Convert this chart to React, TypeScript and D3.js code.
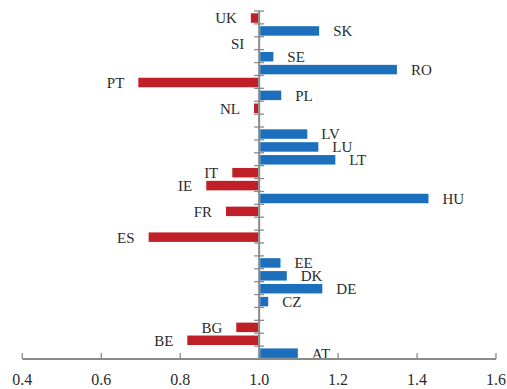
import React from "react";
import * as d3 from "d3";

const categories = ["UK","SK","SI","SE","RO","PT","PL","NL","MT","LV","LU","LT","IT","IE","HU","FR","FI","ES","EL","EE","DK","DE","CZ","CY","BG","BE","AT"];
const values: (number | null)[] = [0.979,1.152,0.998,1.036,1.349,0.694,1.056,0.987,null,1.122,1.150,1.193,0.932,0.866,1.429,0.916,null,0.720,null,1.054,1.070,1.160,1.023,null,0.942,0.818,1.098];
const xTicks = [0.4,0.6,0.8,1.0,1.2,1.4,1.6];

const W = 507, H = 389;
const BLUE = "#1c6fbd";
const RED = "#c01f28";
const AXIS = "#8a8a8a";
const TEXT = "#2b2b2b";
const FONT = "'Liberation Serif', 'Times New Roman', serif";

export default function App() {
  const x = d3.scaleLinear().domain([0.4, 1.6]).range([22.3, 496]);
  const y = d3.scaleBand<string>().domain(categories).range([11, 359]).padding(0);
  const bw = y.bandwidth();
  const base = x(1.0);
  const axisY = 359;

  return (
    <svg width={W} height={H} style={{ position: "absolute", left: 0, top: 0 }}>
      {categories.map((c, i) => {
        const v = values[i];
        if (v == null) return null;
        const y0 = (y(c) as number) + 2.3;
        const h = bw - 3.4;
        const pos = v >= 1;
        const x0 = pos ? base + 1 : x(v);
        const w = pos ? x(v) - base - 1 : base - 1 - x(v);
        const cy = (y(c) as number) + bw / 2 + 1;
        return (
          <g key={c}>
            <rect x={x0} y={y0} width={Math.max(0, w)} height={h} fill={pos ? BLUE : RED} />
            <text
              x={pos ? x(v) + 14 : x(v) - 14}
              y={cy}
              textAnchor={pos ? "start" : "end"}
              dominantBaseline="central"
              fontFamily={FONT}
              fontSize={15}
              fill={TEXT}
            >{c}</text>
          </g>
        );
      })}
      {/* vertical axis at 1.0 */}
      <line x1={base} x2={base} y1={11} y2={axisY} stroke={AXIS} strokeWidth={2} />
      {categories.map((c) => (
        <line key={"t" + c} x1={base - 5} x2={base + 5} y1={y(c) as number} y2={y(c) as number} stroke={AXIS} strokeWidth={1.3} />
      ))}
      {/* x axis */}
      <line x1={x(0.4)} x2={x(1.6)} y1={axisY} y2={axisY} stroke={AXIS} strokeWidth={1.8} />
      {xTicks.map((t) => (
        <g key={"x" + t}>
          <line x1={x(t)} x2={x(t)} y1={axisY} y2={axisY - 6} stroke={AXIS} strokeWidth={1.3} />
          <text x={x(t)} y={385} textAnchor="middle" fontFamily={FONT} fontSize={16} fill={TEXT}>{t.toFixed(1)}</text>
        </g>
      ))}
    </svg>
  );
}
